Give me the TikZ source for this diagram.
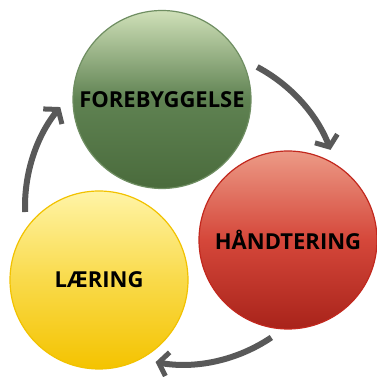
\documentclass[tikz,border=0pt]{standalone}
\usepackage{fontspec}
\setsansfont{Open Sans}
\usetikzlibrary{arrows.meta}
\definecolor{arrowgray}{HTML}{595959}
\definecolor{gtop}{HTML}{CFE0B8}
\definecolor{gmid}{HTML}{5F8252}
\definecolor{gbot}{HTML}{4A6B3C}
\definecolor{gline}{HTML}{6F8E62}
\definecolor{rtop}{HTML}{EC9A86}
\definecolor{rmid}{HTML}{D5473A}
\definecolor{rbot}{HTML}{A8231A}
\definecolor{rline}{HTML}{C2281E}
\definecolor{ytop}{HTML}{FFF4A6}
\definecolor{ymid}{HTML}{F9DA4A}
\definecolor{ybot}{HTML}{F4C300}
\definecolor{yline}{HTML}{F2C200}
\tikzset{
  ball/.style={circle, minimum size=178pt, inner sep=0pt, line width=1.2pt,
    font=\sffamily\bfseries\fontsize{22}{26}\selectfont, text=black},
  cyclearrow/.style={draw=arrowgray, line width=6pt,
    -{Straight Barb[length=9pt,width=24pt,line width=5pt]}}
}
\begin{document}
\begin{tikzpicture}[x=1pt,y=1pt]
\fill[white] (0,0) rectangle (377,377);
\useasboundingbox (0,0) rectangle (377,377);
\node[ball, draw=gline, top color=gtop, bottom color=gbot, middle color=gmid] (fore) at (162,277.5) {FOREBYGGELSE};
\node[ball, draw=rline, top color=rtop, bottom color=rbot, middle color=rmid] (hand) at (288,137) {HÅNDTERING};
\node[ball, draw=yline, top color=ytop, bottom color=ybot, middle color=ymid] (laer) at (99,97) {LÆRING};
\coordinate (c) at (183,170.5);
\draw[cyclearrow] ([shift={(62:158)}]c) arc[start angle=62, end angle=21, radius=158];
\draw[cyclearrow] ([shift={(-56:158)}]c) arc[start angle=-56, end angle=-100, radius=158];
\draw[cyclearrow] ([shift={(182:158)}]c) arc[start angle=182, end angle=141, radius=158];
\end{tikzpicture}
\end{document}
